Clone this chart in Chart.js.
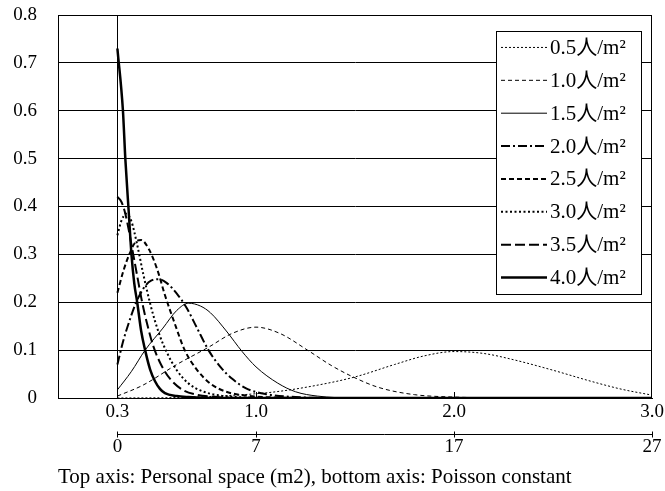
<!DOCTYPE html>
<html>
<head>
<meta charset="utf-8">
<script src="https://cdn.jsdelivr.net/npm/chart.js@4.4.1/dist/chart.umd.min.js"></script>
<style>
  html, body { margin: 0; padding: 0; background: #fff; }
</style>
</head>
<body>
<canvas id="chart" width="665" height="491"></canvas>
<script>
// Personal space (m2) on the top axis, Poisson constant underneath
const xTickValues = [0.3, 1.0, 2.0, 3.0];
const xTickLabels = ['0.3', '1.0', '2.0', '3.0'];
const poissonTicks = [0, 7, 17, 27];
const caption = 'Top axis: Personal space (m2), bottom axis: Poisson constant';

const densityLabels = ['0.5人/m²', '1.0人/m²', '1.5人/m²', '2.0人/m²', '2.5人/m²', '3.0人/m²', '3.5人/m²', '4.0人/m²'];

// values (personal space, probability)
const x05 = [0.3, 0.6, 0.9, 1.1, 1.3, 1.5, 1.7, 1.85, 2.0, 2.15, 2.3, 2.5, 2.7, 2.85, 3.0];
const y05 = [0.0, 0.001, 0.006, 0.013, 0.026, 0.044, 0.07, 0.088, 0.097, 0.093, 0.08, 0.058, 0.034, 0.018, 0.006];

const x10 = [0.3, 0.43, 0.6, 0.76, 0.88, 1.0, 1.12, 1.26, 1.38, 1.49, 1.62, 1.8, 2.0, 2.3, 3.0];
const y10 = [0.004, 0.027, 0.07, 0.106, 0.135, 0.148, 0.135, 0.1, 0.068, 0.044, 0.022, 0.007, 0.002, 0.0, 0.0];

const x15 = [0.3, 0.37, 0.44, 0.53, 0.6, 0.66, 0.72, 0.77, 0.85, 0.93, 1.0, 1.11, 1.2, 1.31, 1.5, 3.0];
const y15 = [0.017, 0.055, 0.1, 0.146, 0.183, 0.198, 0.192, 0.178, 0.14, 0.097, 0.065, 0.031, 0.013, 0.004, 0.0, 0.0];

const x20 = [0.3, 0.33, 0.36, 0.39, 0.43, 0.47, 0.51, 0.55, 0.6, 0.65, 0.7, 0.76, 0.82, 0.88, 0.95, 1.05, 1.2, 1.4, 3.0];
const y20 = [0.07, 0.12, 0.16, 0.195, 0.228, 0.245, 0.248, 0.24, 0.218, 0.188, 0.148, 0.1, 0.065, 0.04, 0.02, 0.008, 0.002, 0.0, 0.0];

const x25 = [0.3, 0.33, 0.36, 0.39, 0.42, 0.46, 0.5, 0.54, 0.59, 0.64, 0.7, 0.77, 0.85, 0.95, 1.1, 1.3, 3.0];
const y25 = [0.22, 0.265, 0.3, 0.325, 0.33, 0.31, 0.27, 0.215, 0.155, 0.1, 0.06, 0.03, 0.013, 0.005, 0.001, 0.0, 0.0];

const x30 = [0.3, 0.32, 0.345, 0.37, 0.4, 0.43, 0.47, 0.51, 0.55, 0.6, 0.66, 0.73, 0.82, 0.95, 1.1, 3.0];
const y30 = [0.34, 0.37, 0.385, 0.37, 0.32, 0.26, 0.19, 0.135, 0.095, 0.058, 0.03, 0.014, 0.005, 0.001, 0.0, 0.0];

const x35 = [0.3, 0.32, 0.34, 0.36, 0.38, 0.4, 0.425, 0.45, 0.48, 0.52, 0.57, 0.63, 0.7, 0.8, 0.95, 3.0];
const y35 = [0.42, 0.41, 0.385, 0.345, 0.3, 0.255, 0.2, 0.155, 0.11, 0.07, 0.038, 0.017, 0.007, 0.002, 0.0, 0.0];

const x40 = [0.3, 0.328, 0.34, 0.357, 0.371, 0.385, 0.4, 0.42, 0.44, 0.465, 0.49, 0.515, 0.54, 0.6, 0.66, 0.8, 3.0];
const y40 = [0.73, 0.6, 0.5, 0.39, 0.3, 0.24, 0.2, 0.14, 0.1, 0.06, 0.035, 0.019, 0.01, 0.004, 0.002, 0.0, 0.0];

const seriesX = [x05, x10, x15, x20, x25, x30, x35, x40];
const seriesY = [y05, y10, y15, y20, y25, y30, y35, y40];

const lineStyles = [
    { borderWidth: 1, borderDash: [2, 2] },
    { borderWidth: 1, borderDash: [4, 3] },
    { borderWidth: 1, borderDash: [] },
    { borderWidth: 2, borderDash: [9, 3, 2, 3] },
    { borderWidth: 2, borderDash: [5, 3] },
    { borderWidth: 2, borderDash: [2, 2.5] },
    { borderWidth: 2, borderDash: [10, 4] },
    { borderWidth: 2.5, borderDash: [] }
];

const serif = "'Liberation Serif', 'Noto Sans CJK JP', serif";
const tickFont = { family: serif, size: 19 };

const datasets = densityLabels.map((label, i) => ({
    label: label,
    data: seriesX[i].map((x, j) => ({ x: x, y: seriesY[i][j] })),
    borderColor: '#000',
    backgroundColor: '#000',
    borderWidth: lineStyles[i].borderWidth,
    borderDash: lineStyles[i].borderDash,
    pointRadius: 0,
    fill: false,
    cubicInterpolationMode: 'monotone'
}));

// keep the plot box where the picture has it, labels may overhang
function noPad(scale) {
    scale.paddingLeft = 0;
    scale.paddingRight = 0;
    scale.paddingTop = 0;
    scale.paddingBottom = 0;
}

// frame, inner ticks, poisson axis line and the boxed legend
const extras = {
    id: 'extras',
    afterDatasetsDraw(chart) {
        const ctx = chart.ctx;
        const area = chart.chartArea;
        const xs = chart.scales.x;
        const px = chart.scales.x2;
        ctx.save();
        ctx.strokeStyle = '#000';
        ctx.lineWidth = 1;
        ctx.setLineDash([]);
        ctx.strokeRect(area.left + 0.5, area.top + 0.5, area.right - area.left - 1, area.bottom - area.top);

        ctx.beginPath();
        [1.0, 2.0].forEach(v => {
            const x = Math.round(xs.getPixelForValue(v)) + 0.5;
            ctx.moveTo(x, area.bottom);
            ctx.lineTo(x, area.bottom - 6);
        });
        ctx.stroke();

        const ly = Math.round(px.top + 11) + 0.5;
        const x0 = px.getPixelForValue(poissonTicks[0]);
        const x1 = px.getPixelForValue(poissonTicks[poissonTicks.length - 1]);
        ctx.beginPath();
        ctx.moveTo(x0, ly);
        ctx.lineTo(x1, ly);
        poissonTicks.forEach(v => {
            const x = Math.round(px.getPixelForValue(v)) + 0.5;
            ctx.moveTo(x, ly - 3);
            ctx.lineTo(x, ly + 3);
        });
        ctx.stroke();

        // legend box
        const bx = 496, by = 31, bw = 145, bh = 263;
        const rowH = bh / chart.data.datasets.length;
        ctx.fillStyle = '#fff';
        ctx.fillRect(bx, by, bw, bh);
        ctx.strokeRect(bx + 0.5, by + 0.5, bw, bh);
        ctx.font = '21px ' + serif;
        ctx.textBaseline = 'middle';
        ctx.textAlign = 'left';
        chart.data.datasets.forEach((ds, i) => {
            const cy = by + rowH * (i + 0.5);
            ctx.beginPath();
            ctx.lineWidth = ds.borderWidth;
            ctx.setLineDash(ds.borderDash);
            ctx.moveTo(bx + 5, cy);
            ctx.lineTo(bx + 51, cy);
            ctx.stroke();
            ctx.setLineDash([]);
            ctx.fillStyle = '#000';
            ctx.fillText(ds.label, bx + 54, cy + 1);
        });
        ctx.restore();
    }
};

new Chart(document.getElementById('chart'), {
    type: 'line',
    data: { datasets: datasets },
    options: {
        responsive: false,
        animation: false,
        layout: { padding: { top: 15, right: 13, left: 0, bottom: 0 } },
        plugins: {
            legend: { display: false },
            tooltip: { enabled: false }
        },
        scales: {
            x: {
                type: 'linear',
                position: 'bottom',
                min: 0,
                max: 3.0,
                afterBuildTicks: (scale) => { scale.ticks = xTickValues.map(v => ({ value: v })); },
                afterFit: (scale) => { scale.height = 25; noPad(scale); },
                ticks: {
                    font: tickFont,
                    color: '#000',
                    padding: 3,
                    maxRotation: 0,
                    autoSkip: false,
                    callback: (value) => xTickLabels[xTickValues.indexOf(value)]
                },
                grid: {
                    drawTicks: false,
                    lineWidth: 1,
                    color: (c) => (c.tick && c.tick.value === 0.3 ? '#000' : 'rgba(0,0,0,0)')
                },
                border: { display: true, color: '#000' }
            },
            x2: {
                type: 'linear',
                position: 'bottom',
                min: -3,
                max: 27,
                afterBuildTicks: (scale) => { scale.ticks = poissonTicks.map(v => ({ value: v })); },
                afterFit: (scale) => { scale.height = 68; noPad(scale); },
                ticks: {
                    font: tickFont,
                    color: '#000',
                    padding: 13,
                    maxRotation: 0,
                    autoSkip: false
                },
                grid: { display: false, drawTicks: false },
                border: { display: false },
                title: {
                    display: true,
                    text: caption,
                    align: 'start',
                    color: '#000',
                    font: { family: serif, size: 21 },
                    padding: { top: 0, bottom: 1 }
                }
            },
            y: {
                min: 0,
                max: 0.8,
                afterFit: (scale) => { scale.width = 58; noPad(scale); },
                ticks: {
                    stepSize: 0.1,
                    font: tickFont,
                    color: '#000',
                    padding: 21,
                    callback: (value) => (Math.round(value * 10) / 10).toString()
                },
                grid: { drawTicks: false, color: '#000', lineWidth: 1 },
                border: { display: true, color: '#000' }
            }
        }
    },
    plugins: [extras]
});
</script>
</body>
</html>
